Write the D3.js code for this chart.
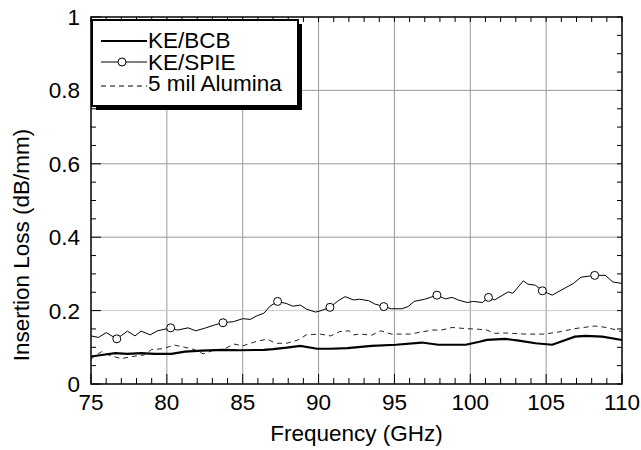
<!DOCTYPE html>
<html>
<head>
<meta charset="utf-8">
<script src="https://cdn.jsdelivr.net/npm/d3@7"></script>
<style>
  body { margin: 0; background: #fff; }
  text { font-family: "Liberation Sans", Arial, sans-serif; fill: #000; }
</style>
</head>
<body>
<div id="chart"></div>
<script>
// Insertion loss vs frequency, three lines

// KE/BCB (thick solid)
const bcbFreq = [75, 75.7, 76.6, 77.4, 78.3, 79.2, 80.3, 81.2, 82.3, 83.7, 84.8, 86.4, 87.0, 87.9, 88.8, 89.9, 90.8, 91.9, 93.5, 95.1, 96.8, 97.9, 99.7, 100.6, 101.1, 102.3, 103.2, 104.3, 105.4, 106.0, 106.9, 107.6, 108.7, 110]
const bcbLoss = [0.075, 0.079, 0.084, 0.082, 0.084, 0.082, 0.082, 0.088, 0.091, 0.093, 0.092, 0.093, 0.095, 0.099, 0.104, 0.096, 0.096, 0.098, 0.104, 0.107, 0.113, 0.107, 0.107, 0.115, 0.12, 0.123, 0.118, 0.111, 0.107, 0.116, 0.129, 0.131, 0.129, 0.12]

// KE/SPIE (thin solid with circles)
const spieFreq = [75, 75.5, 76.0, 76.7, 77.4, 77.9, 78.3, 78.9, 79.4, 80.25, 80.7, 81.4, 81.9, 82.5, 83.15, 83.7, 84.4, 85.0, 85.5, 85.9, 86.4, 86.8, 87.3, 87.9, 88.3, 88.8, 89.2, 89.8, 90.1, 90.75, 91.3, 91.75, 92.3, 92.7, 93.3, 93.7, 94.3, 94.8, 95.5, 95.9, 96.3, 97.0, 97.8, 98.35, 98.8, 99.2, 99.8, 100.2, 100.8, 101.2, 101.6, 102.5, 102.8, 103.5, 103.8, 104.3, 104.75, 105.4, 106.0, 106.8, 107.3, 108.2, 108.9, 109.4, 110]
const spieLoss = [0.131, 0.127, 0.14, 0.123, 0.144, 0.131, 0.144, 0.134, 0.145, 0.153, 0.147, 0.153, 0.145, 0.152, 0.161, 0.167, 0.17, 0.178, 0.176, 0.185, 0.193, 0.212, 0.225, 0.219, 0.212, 0.215, 0.204, 0.196, 0.199, 0.209, 0.227, 0.238, 0.229, 0.231, 0.227, 0.218, 0.211, 0.205, 0.205, 0.211, 0.225, 0.231, 0.242, 0.232, 0.236, 0.229, 0.222, 0.225, 0.222, 0.236, 0.229, 0.251, 0.247, 0.281, 0.272, 0.269, 0.254, 0.242, 0.256, 0.274, 0.291, 0.296, 0.296, 0.278, 0.274]
const spieMarkers = [76.7, 80.25, 83.7, 87.3, 90.75, 94.3, 97.8, 101.2, 104.75, 108.2]

// 5 mil Alumina (dashed)
const aluFreq = [75, 75.2, 75.7, 76.3, 77.0, 77.7, 78.5, 79.0, 79.7, 80.5, 81.2, 81.8, 82.4, 83.0, 83.7, 84.4, 85.0, 85.9, 86.6, 87.2, 87.9, 88.6, 89.2, 90.1, 90.8, 91.4, 92.0, 92.3, 92.8, 93.5, 94.1, 94.8, 96.0, 97.5, 98.1, 98.8, 99.7, 100.6, 101.1, 101.6, 102.3, 103.6, 104.9, 106.0, 106.9, 108.2, 109.0, 109.8, 110]
const aluLoss = [0.067, 0.075, 0.088, 0.077, 0.069, 0.075, 0.079, 0.094, 0.096, 0.106, 0.1, 0.094, 0.082, 0.091, 0.093, 0.109, 0.104, 0.116, 0.122, 0.111, 0.111, 0.119, 0.134, 0.136, 0.131, 0.143, 0.145, 0.134, 0.136, 0.133, 0.145, 0.136, 0.136, 0.147, 0.147, 0.154, 0.151, 0.149, 0.147, 0.138, 0.139, 0.136, 0.136, 0.143, 0.151, 0.158, 0.154, 0.145, 0.142]

const xTicks = [75, 80, 85, 90, 95, 100, 105, 110]
const yTicks = [0, 0.2, 0.4, 0.6, 0.8, 1]
const yTickLabels = ['0', '0.2', '0.4', '0.6', '0.8', '1']
const legendNames = ['KE/BCB', 'KE/SPIE', '5 mil Alumina']

var width = 641
var height = 450
var plot = { left: 91, right: 622, top: 17, bottom: 384 }
var fontSize = 22.5

const xScale = d3.scaleLinear().domain([75, 110]).range([plot.left, plot.right])
const yScale = d3.scaleLinear().domain([0, 1]).range([plot.bottom, plot.top])

var svg = d3.select('#chart')
  .append('svg')
  .attr('width', width)
  .attr('height', height)

svg.append('rect').attr('width', width).attr('height', height).attr('fill', '#fff')

// grid
svg.append('g')
  .selectAll('line')
  .data(xTicks.slice(1, -1))
  .enter()
  .append('line')
  .attr('x1', d => xScale(d)).attr('x2', d => xScale(d))
  .attr('y1', plot.top).attr('y2', plot.bottom)
  .attr('stroke', '#999').attr('stroke-width', 1)

svg.append('g')
  .selectAll('line')
  .data(yTicks.slice(1, -1))
  .enter()
  .append('line')
  .attr('x1', plot.left).attr('x2', plot.right)
  .attr('y1', d => yScale(d)).attr('y2', d => yScale(d))
  .attr('stroke', d => d === 0.2 ? '#ccc' : '#999').attr('stroke-width', 1)

// minor / major inner ticks on all four sides
const xMinor = d3.range(75, 110.01, 1)
const yMinor = d3.range(0, 1.001, 0.05)
const ticks = svg.append('g').attr('stroke', '#000').attr('stroke-width', 1)
xMinor.forEach(f => {
  const major = Math.abs(f % 5) < 1e-6
  ticks.append('line').attr('x1', xScale(f)).attr('x2', xScale(f))
    .attr('y1', plot.bottom).attr('y2', plot.bottom - (major ? 10 : 6))
  ticks.append('line').attr('x1', xScale(f)).attr('x2', xScale(f))
    .attr('y1', plot.top).attr('y2', plot.top + 5)
})
yMinor.forEach(v => {
  const r = Math.round(v * 100) % 20
  const len = r === 0 ? 10 : 5
  ticks.append('line').attr('x1', plot.left).attr('x2', plot.left + len)
    .attr('y1', yScale(v)).attr('y2', yScale(v))
  ticks.append('line').attr('x1', plot.right).attr('x2', plot.right - 5)
    .attr('y1', yScale(v)).attr('y2', yScale(v))
})

// lines
const line = d3.line().x(d => xScale(d[0])).y(d => yScale(d[1]))

svg.append('path')
  .datum(d3.zip(aluFreq, aluLoss))
  .attr('d', line)
  .attr('fill', 'none').attr('stroke', '#222').attr('stroke-width', 1)
  .attr('stroke-dasharray', '5,4')

svg.append('path')
  .datum(d3.zip(bcbFreq, bcbLoss))
  .attr('d', line)
  .attr('fill', 'none').attr('stroke', '#000').attr('stroke-width', 2.2)

const spieData = d3.zip(spieFreq, spieLoss)
svg.append('path')
  .datum(spieData)
  .attr('d', line)
  .attr('fill', 'none').attr('stroke', '#000').attr('stroke-width', 1)

svg.selectAll('circle.mk')
  .data(spieData.filter(d => spieMarkers.includes(d[0])))
  .enter()
  .append('circle')
  .attr('class', 'mk')
  .attr('cx', d => xScale(d[0]))
  .attr('cy', d => yScale(d[1]))
  .attr('r', 4)
  .attr('fill', '#fff').attr('stroke', '#000').attr('stroke-width', 1)

// frame
svg.append('rect')
  .attr('x', plot.left).attr('y', plot.top)
  .attr('width', plot.right - plot.left).attr('height', plot.bottom - plot.top)
  .attr('fill', 'none').attr('stroke', '#000').attr('stroke-width', 1.5)

// tick labels
svg.append('g')
  .selectAll('text')
  .data(xTicks)
  .enter()
  .append('text')
  .attr('x', d => xScale(d))
  .attr('y', 410)
  .attr('text-anchor', 'middle')
  .attr('font-size', fontSize)
  .text(d => d)

svg.append('g')
  .selectAll('text')
  .data(yTicks)
  .enter()
  .append('text')
  .attr('x', 80)
  .attr('y', d => yScale(d) + 8)
  .attr('text-anchor', 'end')
  .attr('font-size', fontSize)
  .text((d, i) => yTickLabels[i])

// axis titles
svg.append('text')
  .attr('x', (plot.left + plot.right) / 2)
  .attr('y', 441)
  .attr('text-anchor', 'middle')
  .attr('font-size', fontSize)
  .text('Frequency (GHz)')

svg.append('text')
  .attr('transform', 'translate(29,245) rotate(-90)')
  .attr('text-anchor', 'middle')
  .attr('font-size', fontSize)
  .text('Insertion Loss (dB/mm)')

// legend
const lg = svg.append('g')
lg.append('rect').attr('x', 96).attr('y', 24).attr('width', 206).attr('height', 86).attr('fill', '#000')
lg.append('rect').attr('x', 92).attr('y', 20).attr('width', 206).attr('height', 86)
  .attr('fill', '#fff').attr('stroke', '#000').attr('stroke-width', 2)

const legendY = [41, 62, 86]
const legendBase = [48, 70, 91]
const legendStyle = [
  { w: 2, dash: null, marker: false },
  { w: 1, dash: null, marker: true },
  { w: 1, dash: '5,4', marker: false }
]
legendNames.forEach((name, i) => {
  const st = legendStyle[i]
  lg.append('line').attr('x1', 101).attr('x2', 147)
    .attr('y1', legendY[i]).attr('y2', legendY[i])
    .attr('stroke', '#000').attr('stroke-width', st.w)
    .attr('stroke-dasharray', st.dash)
  if (st.marker) {
    lg.append('circle').attr('cx', 122).attr('cy', legendY[i]).attr('r', 4)
      .attr('fill', '#fff').attr('stroke', '#000')
  }
  lg.append('text').attr('x', 148).attr('y', legendBase[i])
    .attr('font-size', fontSize).text(name)
})
</script>
</body>
</html>
